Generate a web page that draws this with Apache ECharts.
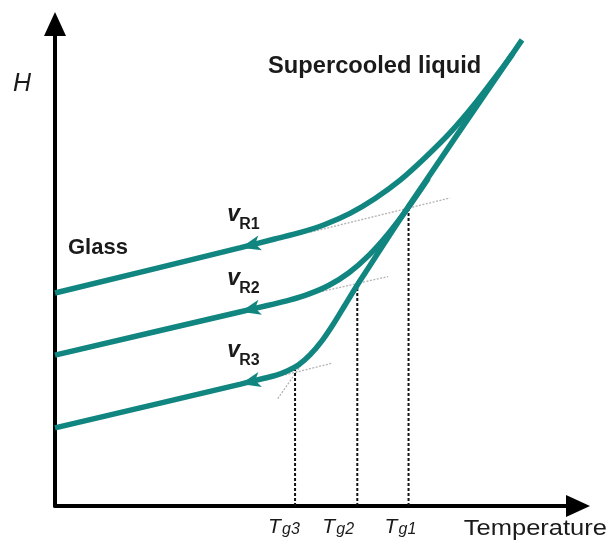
<!DOCTYPE html>
<html><head><meta charset="utf-8">
<script src="https://cdn.jsdelivr.net/npm/echarts@6/dist/echarts.min.js"></script>
<style>html,body{margin:0;padding:0;background:#fff}#c{width:608px;height:554px}</style>
</head><body><div id="c"></div>
<script>
// ---- data (arbitrary units: T on x, H on y, 0..100) ----
const curveR1 = [[0,44.2],[35.5,53.6],[42,55.4],[46.8,56.7],[51.6,58.4],[56.4,60.7],[61.2,63.8],[66,67.6],[70.8,72.3],[75.6,77.5],[80.4,83.6],[85.2,90.4],[87.5,93.8]];
const curveR2 = [[0,31.3],[35.5,40.3],[41,41.7],[44.8,42.7],[48.6,44.0],[52.4,45.8],[56.2,48.4],[60,52.0],[63.8,56.6],[67.6,62.0],[71.4,68.0]];
const curveR3 = [[0,16.2],[35.5,25.3],[40,26.5],[42.2,27.1],[44.4,28.0],[46.6,29.3],[48.8,31.4],[51,34.2],[53.2,37.7],[55.4,41.6],[57.6,45.5],[67.5,62.0],[89.3,96.7]];
const rateNames = ['R1','R2','R3'];
const tgValues = [45.9, 57.8, 67.6];
const tgEnthalpy = [28.2, 46.1, 62.0];
const tgSubs = ['g3','g2','g1'];
const glassTangents = [
  [[48.8,56.8],[75.5,63.9]],
  [[46.5,43.4],[63.7,47.6]],
  [[41.4,26.5],[52.9,29.6]]
];
const liquidExtension = [[42.6,22.3],[49.1,32.4]];
const xName = 'Temperature';
const yName = 'H';
const glassLabel = 'Glass';
const liquidLabel = 'Supercooled liquid';

// ---- chart ----
const TEAL = '#118680';
const FONT = '"Liberation Sans", Arial, sans-serif';
const curves = [curveR1, curveR2, curveR3];
const chart = echarts.init(document.getElementById('c'), null, {renderer: 'canvas'});

const axisCommon = {
  type: 'value', min: 0, max: 100,
  axisLine: {show: true, onZero: false, symbol: ['none', 'triangle'], symbolSize: [22, 24],
    lineStyle: {color: '#000', width: 4}},
  axisTick: {show: false}, axisLabel: {show: false}, splitLine: {show: false}
};

const series = [];
glassTangents.concat([liquidExtension]).forEach(seg => {
  series.push({type: 'line', data: seg, symbol: 'none', silent: true, z: 1,
    lineStyle: {color: '#b3b3b3', width: 1.3, type: [2, 1.5]}});
});
tgValues.forEach((t, i) => {
  series.push({type: 'line', data: [[t, 0], [t, tgEnthalpy[i]]], symbol: 'none', silent: true, z: 2,
    lineStyle: {color: '#111', width: 2, type: [3, 2]}});
});
curves.forEach(c => {
  series.push({type: 'line', data: c, symbol: 'none', smooth: 0.3, silent: true, z: 3,
    lineStyle: {color: TEAL, width: 5.5}});
});

chart.setOption({
  animation: false,
  backgroundColor: '#fff',
  grid: {left: 55, right: 30, top: 24, bottom: 48},
  xAxis: axisCommon,
  yAxis: axisCommon,
  series: series
});

const px = p => chart.convertToPixel({xAxisIndex: 0, yAxisIndex: 0}, p);

// arrowheads at the second vertex of each cooling curve, pointing along cooling direction
const arrowData = curves.map(c => {
  const a = px(c[0]), b = px(c[1]);
  const ang = Math.atan2(a[1] - b[1], b[0] - a[0]) * 180 / Math.PI;
  return {value: c[1], symbolRotate: 90 + ang};
});
series.push({type: 'scatter', data: arrowData, symbol: 'arrow', symbolSize: [11.5, 20], silent: true, z: 4,
  itemStyle: {color: TEAL, opacity: 1}});

const graphic = [];
const txt = (x, y, text, opts) => graphic.push({type: 'text', x: x, y: y, scaleX: opts.scaleX || 1, z: 10,
  style: Object.assign({text: text, fontFamily: FONT, fill: '#1a1a1a', align: 'left', verticalAlign: 'middle'}, opts.style)});

// rate labels above arrows
curves.forEach((c, i) => {
  const p = px(c[1]);
  txt(p[0] - 13.5, p[1] - 33, 'v', {style: {fontSize: 23, fontStyle: 'italic', fontWeight: 'bold'}});
  txt(p[0] - 1.5, p[1] - 23, rateNames[i], {style: {fontSize: 16, fontWeight: 'bold'}});
});
// Tg labels under the axis
const tgOffsets = [-27, -35, -24];
tgValues.forEach((t, i) => {
  const p = px([t, 0]);
  txt(p[0] + tgOffsets[i], 527, 'T', {style: {fontSize: 21, fontStyle: 'italic'}});
  txt(p[0] + tgOffsets[i] + 14, 530, tgSubs[i], {style: {fontSize: 16, fontStyle: 'italic'}});
});
txt(607, 529, xName, {scaleX: 1.16, style: {fontSize: 22, align: 'right'}});
txt(13, 84, yName, {style: {fontSize: 25, fontStyle: 'italic'}});
txt(68, 248, glassLabel, {style: {fontSize: 22, fontWeight: 'bold'}});
txt(268, 67, liquidLabel, {scaleX: 1.03, style: {fontSize: 23, fontWeight: 'bold'}});

chart.setOption({series: series, graphic: graphic});
</script></body></html>
